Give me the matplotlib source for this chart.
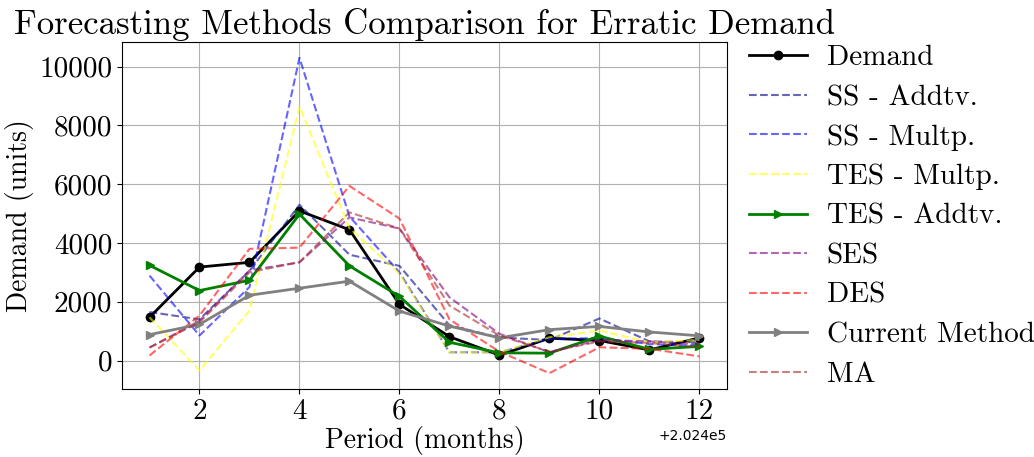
import matplotlib
matplotlib.use('Agg')
import matplotlib.pyplot as plt

plt.rcParams['font.family'] = ['cmr10', 'DejaVu Serif']
plt.rcParams['mathtext.fontset'] = 'cm'
plt.rcParams['axes.formatter.use_mathtext'] = False

periods = [202401, 202402, 202403, 202404, 202405, 202406,
           202407, 202408, 202409, 202410, 202411, 202412]

demand = [1470, 3180, 3340, 5090, 4450, 1910, 810, 180, 760, 680, 360, 770]
ss_add = [1650, 1400, 3050, 5300, 3600, 3220, 1200, 780, 700, 1430, 650, 620]
ss_mult = [2890, 850, 2500, 10300, 4900, 3000, 280, 280, 740, 760, 560, 500]
tes_mult = [1470, -340, 1700, 8640, 4500, 2950, 280, 280, 790, 1020, 620, 700]
tes_add = [3240, 2380, 2730, 4980, 3220, 2180, 620, 260, 250, 830, 380, 480]
ses = [440, 1350, 3070, 3340, 4870, 4490, 2150, 910, 280, 700, 650, 550]
des = [170, 1530, 3800, 3840, 5940, 4830, 1400, 300, -430, 450, 400, 140]
current = [880, 1230, 2220, 2460, 2700, 1680, 1170, 770, 1050, 1160, 970, 840]
ma = [440, 1300, 3000, 3350, 5040, 4490, 1870, 850, 300, 650, 600, 450]

fig = plt.figure(figsize=(10.34, 4.57), dpi=100)
ax = fig.add_axes([0.118, 0.149, 0.585, 0.759])

ax.plot(periods, demand, color='black', marker='o', markersize=6, linewidth=2, label='Demand')
ax.plot(periods, ss_add, color='darkblue', alpha=0.6, linestyle='--', linewidth=1.5, label='SS - Addtv.')
ax.plot(periods, ss_mult, color='blue', alpha=0.6, linestyle='--', linewidth=1.5, label='SS - Multp.')
ax.plot(periods, tes_mult, color='yellow', alpha=0.6, linestyle='--', linewidth=1.5, label='TES - Multp.')
ax.plot(periods, tes_add, color='green', marker='>', markersize=6, linewidth=2, label='TES - Addtv.')
ax.plot(periods, ses, color='purple', alpha=0.6, linestyle='--', linewidth=1.5, label='SES')
ax.plot(periods, des, color='red', alpha=0.6, linestyle='--', linewidth=1.5, label='DES')
ax.plot(periods, current, color='gray', marker='>', markersize=6, linewidth=2, label='Current Method')
ax.plot(periods, ma, color='brown', alpha=0.6, linestyle='--', linewidth=1.5, label='MA')

ax.set_xticks(periods[1::2])
ax.set_yticks([0, 2000, 4000, 6000, 8000, 10000])
ax.set_title('Forecasting Methods Comparison for Erratic Demand', fontsize=25)
ax.set_xlabel('Period (months)', fontsize=20, labelpad=1)
ax.set_ylabel('Demand (units)', fontsize=20)
ax.tick_params(labelsize=21)
ax.xaxis.get_offset_text().set_fontfamily('DejaVu Sans')
ax.xaxis.get_offset_text().set_fontsize(10)
ax.grid(True)
ax.legend(loc='upper left', bbox_to_anchor=(0.993, 1.067), fontsize=21, frameon=False,
          labelspacing=0.45, handletextpad=0.66)

fig.savefig('out.png', dpi=100)
